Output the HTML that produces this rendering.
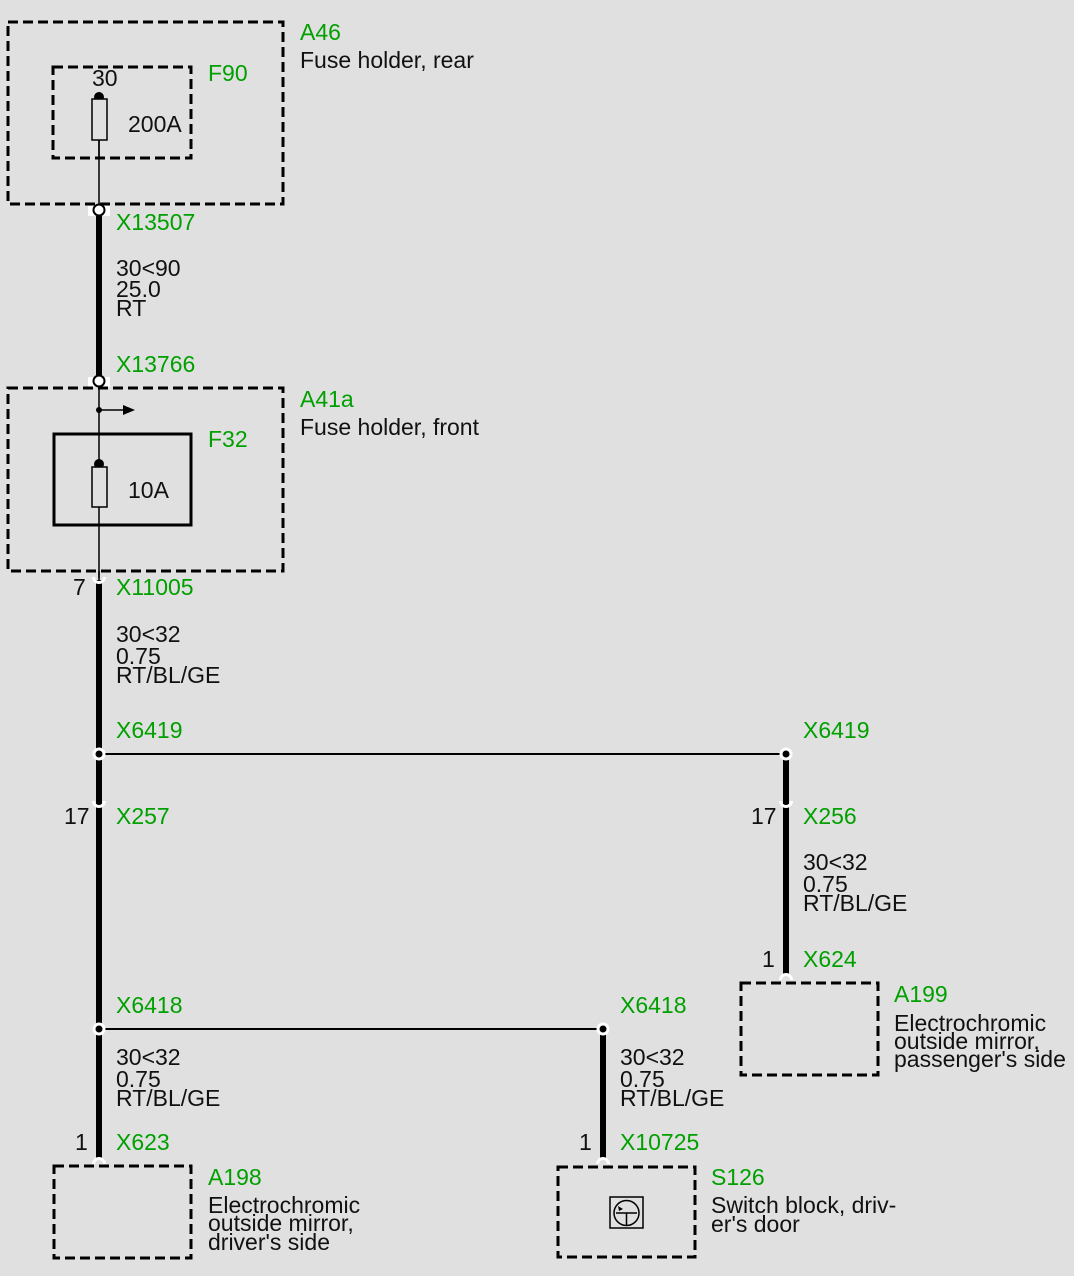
<!DOCTYPE html>
<html>
<head>
<meta charset="utf-8">
<style>
  html,body{margin:0;padding:0;background:#e0e0e0;}
  svg{display:block;}
  text{font-family:"Liberation Sans",Arial,sans-serif;font-size:23px;fill:#111;}
  .g{fill:#00a000;}
</style>
</head>
<body>
<svg width="1074" height="1276" viewBox="0 0 1074 1276" xmlns="http://www.w3.org/2000/svg">
  <rect x="0" y="0" width="1074" height="1276" fill="#e0e0e0"/>

  <!-- A46 box -->
  <rect x="8" y="22" width="275" height="182" fill="none" stroke="#000" stroke-width="3" stroke-dasharray="10 5"/>
  <!-- F90 inner dashed box -->
  <rect x="53" y="67" width="138" height="91" fill="none" stroke="#000" stroke-width="3" stroke-dasharray="10 5"/>
  <!-- thin wire in A46 -->
  <line x1="99" y1="97" x2="99" y2="210" stroke="#000" stroke-width="1.5"/>
  <circle cx="99" cy="97" r="5" fill="#000"/>
  <rect x="92" y="99" width="15" height="41" fill="#e0e0e0" stroke="#000" stroke-width="1.5"/>
  <line x1="99" y1="140" x2="99" y2="158" stroke="#000" stroke-width="1.5"/>

  <!-- thick wire X13507 -> X13766 -->
  <line x1="99" y1="210" x2="99" y2="381" stroke="#000" stroke-width="6"/>
  <rect x="88" y="206" width="22" height="10" fill="#fff"/>
  <circle cx="99" cy="210" r="5.5" fill="#fff" stroke="#000" stroke-width="2"/>
  <rect x="88" y="377" width="22" height="10" fill="#fff"/>
  <circle cx="99" cy="381" r="5.5" fill="#fff" stroke="#000" stroke-width="2"/>

  <!-- A41a box -->
  <rect x="8" y="388" width="275" height="183" fill="none" stroke="#000" stroke-width="3" stroke-dasharray="10 5"/>
  <line x1="99" y1="387" x2="99" y2="578" stroke="#000" stroke-width="1.5"/>
  <!-- splice arrow -->
  <circle cx="99" cy="410" r="3" fill="#000"/>
  <line x1="99" y1="410" x2="125" y2="410" stroke="#000" stroke-width="1.5"/>
  <polygon points="123,405 135,410 123,415" fill="#000"/>
  <!-- F32 solid box -->
  <rect x="54" y="434" width="137" height="91" fill="none" stroke="#000" stroke-width="3"/>
  <circle cx="99" cy="464" r="5" fill="#000"/>
  <rect x="92" y="467" width="15" height="40" fill="#e0e0e0" stroke="#000" stroke-width="1.5"/>

  <!-- main thick wire down -->
  <line x1="99" y1="580" x2="99" y2="1160" stroke="#000" stroke-width="6"/>
  <!-- X11005 female -->
  <path d="M93.5,577 A5.5,5.5 0 0 0 104.5,577" fill="none" stroke="#fff" stroke-width="3"/>
  <line x1="99" y1="571" x2="99" y2="580" stroke="#000" stroke-width="1.5"/>

  <!-- X6419 splice -->
  <line x1="99" y1="754" x2="786" y2="754" stroke="#000" stroke-width="2"/>
  <line x1="786" y1="754" x2="786" y2="975" stroke="#000" stroke-width="6"/>
  <circle cx="99" cy="754" r="6.5" fill="#fff"/>
  <circle cx="99" cy="754" r="3.5" fill="#000"/>
  <circle cx="786" cy="754" r="6.5" fill="#fff"/>
  <circle cx="786" cy="754" r="3.5" fill="#000"/>

  <!-- X257 / X256 female -->
  <path d="M93.5,801 A5.5,5.5 0 0 0 104.5,801" fill="none" stroke="#fff" stroke-width="3"/>
  <path d="M780.5,801 A5.5,5.5 0 0 0 791.5,801" fill="none" stroke="#fff" stroke-width="3"/>

  <!-- X6418 splice -->
  <line x1="99" y1="1029" x2="603" y2="1029" stroke="#000" stroke-width="2"/>
  <line x1="603" y1="1029" x2="603" y2="1160" stroke="#000" stroke-width="6"/>
  <circle cx="99" cy="1029" r="6.5" fill="#fff"/>
  <circle cx="99" cy="1029" r="3.5" fill="#000"/>
  <circle cx="603" cy="1029" r="6.5" fill="#fff"/>
  <circle cx="603" cy="1029" r="3.5" fill="#000"/>

  <!-- male connectors -->
  <path d="M93.5,1164 A5.5,5.5 0 0 1 104.5,1164" fill="none" stroke="#fff" stroke-width="3"/>
  <path d="M597.5,1164 A5.5,5.5 0 0 1 608.5,1164" fill="none" stroke="#fff" stroke-width="3"/>
  <path d="M780.5,980 A5.5,5.5 0 0 1 791.5,980" fill="none" stroke="#fff" stroke-width="3"/>

  <!-- A199 box -->
  <rect x="741" y="983" width="137" height="92" fill="none" stroke="#000" stroke-width="3" stroke-dasharray="10 5"/>
  <!-- A198 box -->
  <rect x="54" y="1166" width="137" height="92" fill="none" stroke="#000" stroke-width="3" stroke-dasharray="10 5"/>
  <!-- S126 box -->
  <rect x="558" y="1167" width="137" height="90" fill="none" stroke="#000" stroke-width="3" stroke-dasharray="10 5"/>
  <!-- switch icon -->
  <rect x="610" y="1197" width="33" height="31" fill="none" stroke="#000" stroke-width="1.5"/>
  <circle cx="626.5" cy="1213" r="12.5" fill="none" stroke="#000" stroke-width="1.5"/>
  <line x1="616" y1="1213" x2="637" y2="1213" stroke="#000" stroke-width="1.5"/>
  <line x1="626.5" y1="1213" x2="626.5" y2="1225.5" stroke="#000" stroke-width="1.5"/>
  <polygon points="618,1206 623,1209 619,1211" fill="#000"/>

  <!-- Texts -->
  <text x="300" y="40" class="g">A46</text>
  <text x="300" y="68">Fuse holder, rear</text>
  <text x="92" y="86">30</text>
  <text x="128" y="132">200A</text>
  <text x="208" y="81" class="g">F90</text>
  <text x="116" y="230" class="g">X13507</text>
  <text x="116" y="276">30&lt;90</text>
  <text x="116" y="297">25.0</text>
  <text x="116" y="316">RT</text>
  <text x="116" y="372" class="g">X13766</text>

  <text x="300" y="407" class="g">A41a</text>
  <text x="300" y="435">Fuse holder, front</text>
  <text x="208" y="447" class="g">F32</text>
  <text x="128" y="498">10A</text>

  <text x="73" y="595">7</text>
  <text x="116" y="595" class="g">X11005</text>
  <text x="116" y="642">30&lt;32</text>
  <text x="116" y="664">0.75</text>
  <text x="116" y="683">RT/BL/GE</text>

  <text x="116" y="738" class="g">X6419</text>
  <text x="803" y="738" class="g">X6419</text>

  <text x="64" y="824">17</text>
  <text x="116" y="824" class="g">X257</text>
  <text x="751" y="824">17</text>
  <text x="803" y="824" class="g">X256</text>

  <text x="803" y="870">30&lt;32</text>
  <text x="803" y="892">0.75</text>
  <text x="803" y="911">RT/BL/GE</text>

  <text x="762" y="967">1</text>
  <text x="803" y="967" class="g">X624</text>
  <text x="894" y="1002" class="g">A199</text>
  <text x="894" y="1031">Electrochromic</text>
  <text x="894" y="1049">outside mirror,</text>
  <text x="894" y="1067">passenger's side</text>

  <text x="116" y="1013" class="g">X6418</text>
  <text x="620" y="1013" class="g">X6418</text>
  <text x="116" y="1065">30&lt;32</text>
  <text x="116" y="1087">0.75</text>
  <text x="116" y="1106">RT/BL/GE</text>
  <text x="620" y="1065">30&lt;32</text>
  <text x="620" y="1087">0.75</text>
  <text x="620" y="1106">RT/BL/GE</text>

  <text x="75" y="1150">1</text>
  <text x="116" y="1150" class="g">X623</text>
  <text x="579" y="1150">1</text>
  <text x="620" y="1150" class="g">X10725</text>

  <text x="208" y="1185" class="g">A198</text>
  <text x="208" y="1213">Electrochromic</text>
  <text x="208" y="1231">outside mirror,</text>
  <text x="208" y="1250">driver's side</text>

  <text x="711" y="1185" class="g">S126</text>
  <text x="711" y="1213">Switch block, driv-</text>
  <text x="711" y="1232">er's door</text>
</svg>
</body>
</html>
